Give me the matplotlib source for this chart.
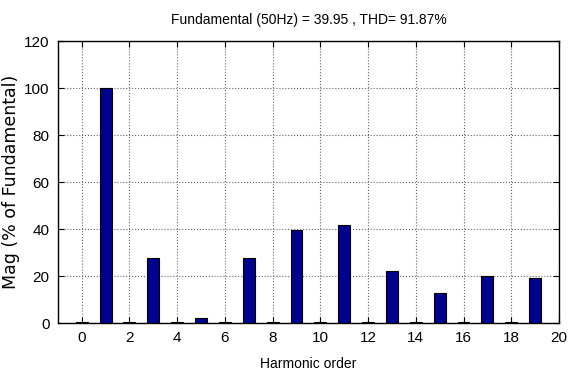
import numpy as np
import matplotlib
matplotlib.use("Agg")
import matplotlib.pyplot as plt

# harmonic spectrum, magnitude in % of fundamental
orders = np.arange(0, 20)
mags = [0.3, 100, 0.3, 27.6, 0.3, 2.0, 0.3, 27.6, 0.3, 39.7,
        0.3, 41.6, 0.3, 22.2, 0.3, 12.6, 0.3, 19.9, 0.3, 19.0]
xticks = list(range(0, 21, 2))
yticks = list(range(0, 121, 20))
title = "Fundamental (50Hz) = 39.95 , THD= 91.87%"

fig = plt.figure(figsize=(5.73, 3.77), dpi=100)
ax = fig.add_axes([0.101, 0.143, 0.8745, 0.748])

ax.bar(orders, mags, width=0.5, color=(0, 0, 0.56), edgecolor="black", linewidth=0.8, zorder=3)

ax.set_xlim(-1, 20)
ax.set_ylim(0, 120)
ax.set_xticks(xticks)
ax.set_yticks(yticks)
ax.grid(True, linestyle=":", color="#666666", linewidth=0.8, zorder=0)
ax.tick_params(direction="in", top=True, right=True, length=4, labelsize=11, pad=6)
for lab in ax.get_xticklabels() + ax.get_yticklabels():
    lab.set_fontfamily("Liberation Sans")
for s in ax.spines.values():
    s.set_linewidth(1.0)

ax.set_title(title, fontsize=10, family="Liberation Sans", pad=12)
ax.set_xlabel("Harmonic order", fontsize=10, family="Liberation Sans", labelpad=8)
ax.set_ylabel("Mag (% of Fundamental)", fontsize=12.5, family="DejaVu Sans", labelpad=3)

fig.savefig("out.png", dpi=100)
